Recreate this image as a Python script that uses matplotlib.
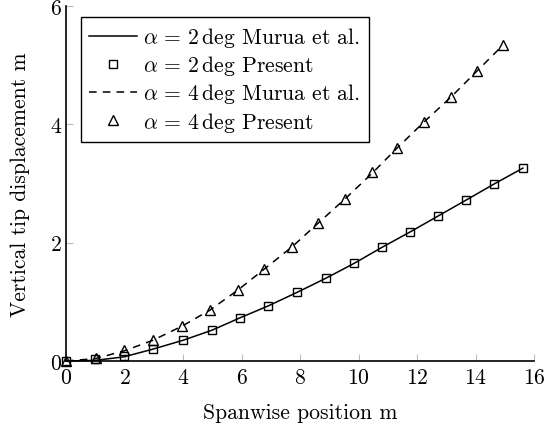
import matplotlib
matplotlib.use("Agg")
import matplotlib.pyplot as plt

plt.rcParams['font.family'] = 'serif'
plt.rcParams['font.serif'] = ['cmr10']
plt.rcParams['mathtext.fontset'] = 'cm'
plt.rcParams['axes.formatter.use_mathtext'] = True

# alpha = 2 deg
x_murua_2 = [0, 0.99, 1.98, 2.97, 4.0, 4.99, 5.95, 6.91, 7.90, 8.89, 9.85, 10.80, 11.76, 12.72, 13.68, 14.63, 15.62]
y_murua_2 = [0, 0.01, 0.07, 0.20, 0.35, 0.52, 0.73, 0.93, 1.16, 1.40, 1.65, 1.92, 2.18, 2.45, 2.72, 2.99, 3.26]
x_pres_2 = [0, 0.99, 1.98, 2.97, 4.0, 4.99, 5.95, 6.91, 7.90, 8.89, 9.85, 10.80, 11.76, 12.72, 13.68, 14.63, 15.62]
y_pres_2 = [0, 0.03, 0.08, 0.20, 0.35, 0.52, 0.73, 0.93, 1.16, 1.40, 1.65, 1.92, 2.18, 2.45, 2.72, 2.99, 3.26]

# alpha = 4 deg
x_murua_4 = [0, 1.0, 1.98, 2.97, 3.97, 4.92, 5.88, 6.77, 7.73, 8.62, 9.54, 10.46, 11.32, 12.24, 13.16, 14.05, 14.94]
y_murua_4 = [0, 0.04, 0.17, 0.35, 0.59, 0.86, 1.20, 1.55, 1.93, 2.33, 2.74, 3.17, 3.60, 4.04, 4.46, 4.90, 5.34]
x_pres_4 = [0, 1.03, 1.98, 2.97, 3.97, 4.92, 5.88, 6.77, 7.73, 8.62, 9.54, 10.46, 11.32, 12.24, 13.16, 14.05, 14.94]
y_pres_4 = [0, 0.05, 0.19, 0.35, 0.59, 0.86, 1.20, 1.55, 1.93, 2.33, 2.74, 3.19, 3.60, 4.04, 4.46, 4.90, 5.34]

x_ticks = [0, 2, 4, 6, 8, 10, 12, 14, 16]
y_ticks = [0, 2, 4, 6]

labels = [r'$\alpha\,=\,2\,\mathrm{deg}$ Murua et al.',
          r'$\alpha\,=\,2\,\mathrm{deg}$ Present',
          r'$\alpha\,=\,4\,\mathrm{deg}$ Murua et al.',
          r'$\alpha\,=\,4\,\mathrm{deg}$ Present']

FS = 15.6

fig = plt.figure(figsize=(5.45, 4.27), dpi=100)
ax = fig.add_axes([66/545, 65/427, (534-66)/545, (362-7)/427])

ax.plot(x_murua_2, y_murua_2, color='black', lw=1.1, label=labels[0], zorder=2, clip_on=False)
ax.plot(x_pres_2, y_pres_2, ls='none', marker='s', ms=6, mfc='none', mec='black', mew=1.0,
        label=labels[1], zorder=3, clip_on=False)
ax.plot(x_murua_4, y_murua_4, color='black', lw=1.1, dashes=(5, 4), label=labels[2], zorder=2, clip_on=False)
ax.plot(x_pres_4, y_pres_4, ls='none', marker='^', ms=6.5, mfc='none', mec='black', mew=1.0,
        label=labels[3], zorder=3, clip_on=False)

ax.set_xlim(0, 16)
ax.set_ylim(0, 6)
ax.set_xticks(x_ticks)
ax.set_yticks(y_ticks)
for s in ['top', 'right']:
    ax.spines[s].set_visible(False)
for s in ['left', 'bottom']:
    ax.spines[s].set_linewidth(1.2)
ax.tick_params(direction='in', length=5, width=0.8, color='#bbbbbb', labelsize=FS, pad=3)
ax.tick_params(axis='x', pad=5)

ax.set_xlabel('Spanwise position m', fontsize=FS, labelpad=11)
ax.set_ylabel('Vertical tip displacement m', fontsize=FS, labelpad=14)

leg = ax.legend(loc='upper left', bbox_to_anchor=(15/468, 1 - 11/355), fontsize=FS,
                frameon=True, fancybox=False, edgecolor='black', framealpha=1,
                handlelength=2.2, handletextpad=0.3, labelspacing=0.19, borderpad=0.38,
                borderaxespad=0)
leg.get_frame().set_linewidth(1.0)

fig.savefig('out.png', dpi=100)
